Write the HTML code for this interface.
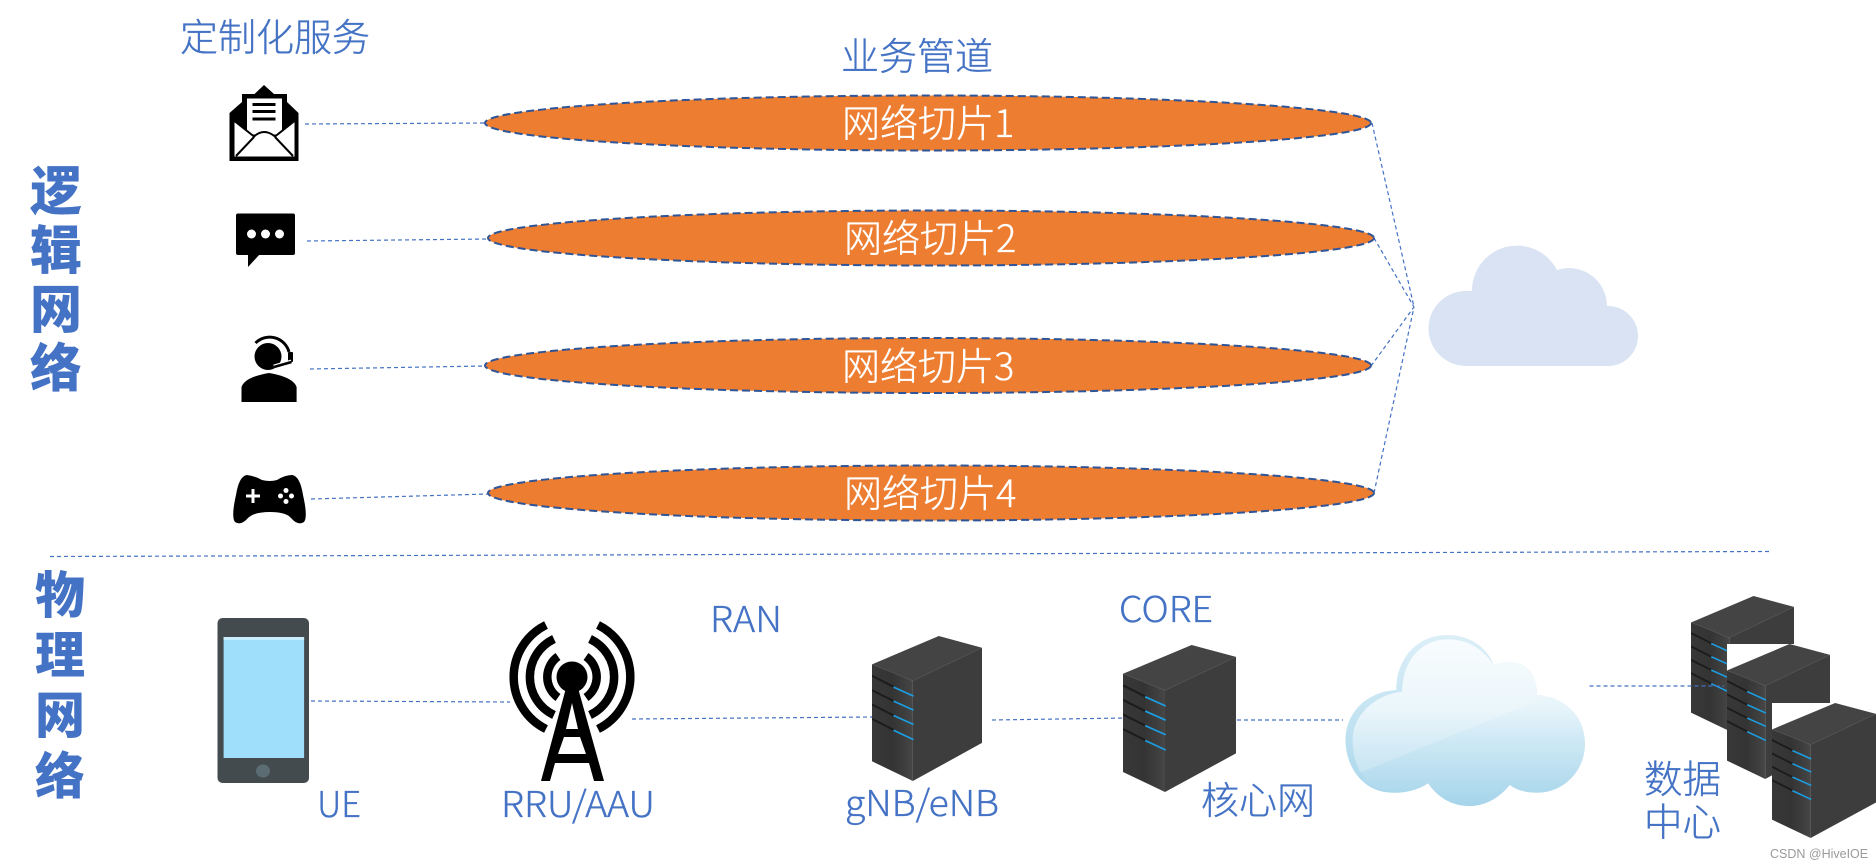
<!DOCTYPE html>
<html><head><meta charset="utf-8"><style>
html,body{margin:0;padding:0;background:#fff;width:1876px;height:868px;overflow:hidden}
svg{display:block}
text{font-family:"Noto Sans CJK SC","Liberation Sans",sans-serif;font-weight:300;fill:#4472C4;stroke:#4472C4;stroke-width:.35;font-size:38px}
.w{fill:#fff;stroke:#fff}
.b{font-weight:900;font-size:50px;stroke:none}
.b2{font-size:52px}
.l{font-size:36px}
.dl{fill:none;stroke:#4472C4;stroke-width:1.2;stroke-dasharray:4 3}
.el{fill:#ED7D31;stroke:#2F5597;stroke-width:2;stroke-dasharray:8 4}
</style></head><body>
<svg width="1876" height="868" viewBox="0 0 1876 868" xmlns="http://www.w3.org/2000/svg">
<defs>
<linearGradient id="c1" x1="0" y1="0" x2="0" y2="1"><stop offset="0" stop-color="#dceff8"/><stop offset="1" stop-color="#a8d6eb"/></linearGradient>
<linearGradient id="c2" x1="0" y1="0" x2="0" y2="1"><stop offset="0" stop-color="#f7fcfe"/><stop offset=".42" stop-color="#e6f4fa"/><stop offset=".6" stop-color="#cfe9f5"/><stop offset="1" stop-color="#a5d4ea"/></linearGradient>
<linearGradient id="lf" x1="0" y1="0" x2="1" y2="0"><stop offset="0" stop-color="#383838"/><stop offset=".5" stop-color="#343434"/><stop offset=".85" stop-color="#404040"/><stop offset="1" stop-color="#474747"/></linearGradient>
<symbol id="srv" viewBox="0 0 331 434" preserveAspectRatio="none">
<polygon points="0,85 201,0 331,35 123,134" fill="#444"/>
<polygon points="0,85 123,134 123,434 0,375" fill="url(#lf)"/>
<polygon points="123,134 331,35 331,320 123,434" fill="#3d3d3d"/>
<g stroke="#1c1c1c" stroke-width="6" fill="none">
<path d="M0,119L65,152M0,162L65,195M0,205L65,238M0,248L65,281"/></g>
<g stroke="#1b9fe4" stroke-width="5" fill="none">
<path d="M65,153L125,180M65,195L125,222M65,238L125,265M65,282L125,310"/></g>
</symbol>
</defs>

<text x="180" y="51">定制化服务</text>
<text x="841" y="70">业务管道</text>
<text class="b b2" x="30" y="210">逻</text>
<text class="b b2" x="30" y="269">辑</text>
<text class="b b2" x="30" y="328">网</text>
<text class="b b2" x="30" y="387">络</text>
<text class="b" x="35" y="613">物</text>
<text class="b" x="35" y="673">理</text>
<text class="b" x="35" y="733">网</text>
<text class="b" x="35" y="794">络</text>

<!-- connectors top -->
<path class="dl" d="M305,124L484,123M307,241L488,239M310,369L484,366M311,499L488,494"/>
<path class="dl" d="M1372,123L1414,307M1374,238L1414,307M1371,366L1414,307M1374,493L1414,307"/>
<path class="dl" d="M50,556.500L1769,551.500"/>

<ellipse class="el" cx="928" cy="123" rx="443" ry="27.5"/>
<ellipse class="el" cx="931" cy="238" rx="443" ry="27.5"/>
<ellipse class="el" cx="928" cy="365.500" rx="443" ry="27.5"/>
<ellipse class="el" cx="931" cy="493" rx="443" ry="27.5"/>
<text class="w" x="842" y="137">网络切片1</text>
<text class="w" x="844" y="252">网络切片2</text>
<text class="w" x="842" y="380">网络切片3</text>
<text class="w" x="844" y="507">网络切片4</text>

<!-- cloud 1 -->
<path d="M1466,366A37.500,37.500 0 0 1 1466,291L1472,291A45,45 0 0 1 1557,270A38,38 0 0 1 1607,306A30,30 0 0 1 1609,366Z" fill="#DAE3F3"/>

<!-- email -->
<polygon points="264,85 274,94 287,94 287,102 298.500,113 298.500,161 229.500,161 229.500,113 242,102 242,94 254.500,94" fill="#000"/>
<rect x="247" y="98.500" width="35" height="36" fill="#fff"/>
<path d="M252.500,104.500H275.500M252.500,111.500H275.500M252.500,119H275.500" stroke="#000" stroke-width="3"/>
<path d="M234.500,121L254,136Q264,127 275,136L294.500,121V156.500H234.500Z" fill="#fff"/>
<path d="M234.500,121L254,136.500Q264,127.500 275,136.500L294.500,121M236,156L254,137M293,156L275,137" fill="none" stroke="#000" stroke-width="2"/>

<!-- chat -->
<rect x="236" y="213.500" width="59" height="41.500" rx="2" fill="#000"/>
<polygon points="248,254 248,267 260,254" fill="#000"/>
<circle cx="251.500" cy="234" r="4.500" fill="#fff"/><circle cx="265.500" cy="234" r="4.500" fill="#fff"/><circle cx="279.500" cy="234" r="4.500" fill="#fff"/>

<!-- agent -->
<g transform="translate(0,-1)">
<circle cx="268" cy="357.500" r="13.500" fill="#000"/>
<path d="M241.500,403V388Q245,378 269,374Q293,378 296.600,388V403Z" fill="#000"/>
<path d="M255.500,344A20,20 0 0 1 289,353" fill="none" stroke="#000" stroke-width="3"/>
<rect x="288" y="353" width="5" height="10" rx="1" fill="#000"/>
<path d="M291.500,363L274,368" fill="none" stroke="#fff" stroke-width="5"/>
<path d="M291.500,363L274,368" fill="none" stroke="#000" stroke-width="2.500"/>
</g>

<!-- gamepad -->
<g transform="translate(0,-1)">
<path d="M247,476Q255,477 262,481Q270,483 277,481Q285,476 292,476Q300,477 303,496Q308,518 304,523Q298,527 291,519Q286,513 270,513Q254,513 248,519Q241,527 235,523Q231,518 236,496Q239,477 247,476Z" fill="#000"/>
<path d="M246,497H260M253,490V504" stroke="#fff" stroke-width="3"/>
<g fill="#fff"><circle cx="286" cy="491.500" r="2.500"/><circle cx="286" cy="502.500" r="2.500"/><circle cx="280.500" cy="497" r="2.500"/><circle cx="291.500" cy="497" r="2.500"/></g>
</g>

<!-- phone -->
<rect x="217.500" y="618" width="91.500" height="165" rx="5" fill="#444b4e"/>
<rect x="223.600" y="637" width="80.500" height="121" fill="#9fdffc"/>
<rect x="223.600" y="637" width="80.500" height="3" fill="#c8eefd"/>
<ellipse cx="263" cy="771" rx="7" ry="6.500" fill="#5b6d72"/>

<!-- tower -->
<g fill="none" stroke="#000" stroke-width="8.500">
<path d="M546,625A58,58 0 0 0 546,729M598,625A58,58 0 0 1 598,729"/>
<path d="M554,639A42,42 0 0 0 554,715M590,639A42,42 0 0 1 590,715"/>
<path d="M558,656.500A25,25 0 0 0 558,697.500M586,656.500A25,25 0 0 1 586,697.500"/>
</g>
<circle cx="572" cy="677" r="15.500" fill="#000"/>
<path d="M566,688H578L604,781H594L589,763H555L550,781H541ZM572,703L566,729H578ZM564,737L558,754H586L580,737Z" fill="#000" fill-rule="evenodd"/>

<!-- connectors bottom -->
<path class="dl" d="M311,701L510,702M632,719L873,717M992,720L1126,718M1237,720L1343,720"/>

<!-- gNB / core -->
<use href="#srv" x="872" y="636" width="110" height="145"/>
<use href="#srv" x="1123" y="645" width="113" height="147"/>

<!-- cloud 2 -->
<clipPath id="cc"><path d="M232,365C232,280 280,208 360,208C420,208 462,240 490,285C510,275 560,270 585,295C605,315 612,345 612,375C690,380 747,440 747,520C747,610 680,670 610,668C580,668 555,660 535,645C500,690 460,708 420,708C370,708 330,680 305,640C270,660 230,665 200,663C130,660 92,590 92,510C92,440 150,375 232,365Z"/></clipPath>
<g transform="translate(1320,570) scale(.3546,.3333)">
<path d="M215,360C215,270 270,195 360,195C420,195 470,230 490,285C510,275 560,270 585,295C605,315 612,345 612,375C690,380 747,440 747,520C747,610 680,670 610,668C580,668 555,660 535,645C500,690 460,708 420,708C370,708 330,680 305,640C270,665 230,670 200,668C120,665 72,590 72,510C72,430 130,365 215,360Z" fill="url(#c1)"/>
<path d="M232,365C232,280 280,208 360,208C420,208 462,240 490,285C510,275 560,270 585,295C605,315 612,345 612,375C690,380 747,440 747,520C747,610 680,670 610,668C580,668 555,660 535,645C500,690 460,708 420,708C370,708 330,680 305,640C270,660 230,665 200,663C130,660 92,590 92,510C92,440 150,375 232,365Z" fill="url(#c2)"/>
<polygon points="60,150 760,150 760,330 120,605 60,630" fill="#fff" opacity=".2" clip-path="url(#cc)"/>
</g>

<!-- data centre -->
<use href="#srv" x="1691" y="596" width="103" height="135"/>
<path d="M1589.500,686L1724,686" fill="none" stroke="#4472C4" stroke-width="1.200" stroke-dasharray="4 3"/>
<rect x="1727" y="644" width="103" height="136" fill="#fff"/>
<use href="#srv" x="1727" y="644" width="103" height="135"/>
<rect x="1772" y="703" width="104" height="136" fill="#fff"/>
<use href="#srv" x="1772" y="703" width="104" height="135"/>

<text class="l" x="317" y="817" textLength="44" lengthAdjust="spacingAndGlyphs">UE</text>
<text class="l" x="501" y="817" textLength="154" lengthAdjust="spacingAndGlyphs">RRU/AAU</text>
<text class="l" x="710" y="632" textLength="72" lengthAdjust="spacingAndGlyphs">RAN</text>
<text class="l" x="845" y="816" textLength="154" lengthAdjust="spacingAndGlyphs">gNB/eNB</text>
<text class="l" x="1119" y="622" textLength="94" lengthAdjust="spacingAndGlyphs">CORE</text>
<text x="1201" y="814" style="font-size:38px">核心网</text>
<text x="1644" y="793" style="font-size:38.500px">数据</text>
<text x="1644" y="836" style="font-size:38.500px">中心</text>
<text x="1770" y="858" style="font-family:'Liberation Sans',sans-serif;font-size:12.500px;font-weight:400;fill:#9a9a9a;stroke:none">CSDN @HiveIOE</text>
</svg>
</body></html>
